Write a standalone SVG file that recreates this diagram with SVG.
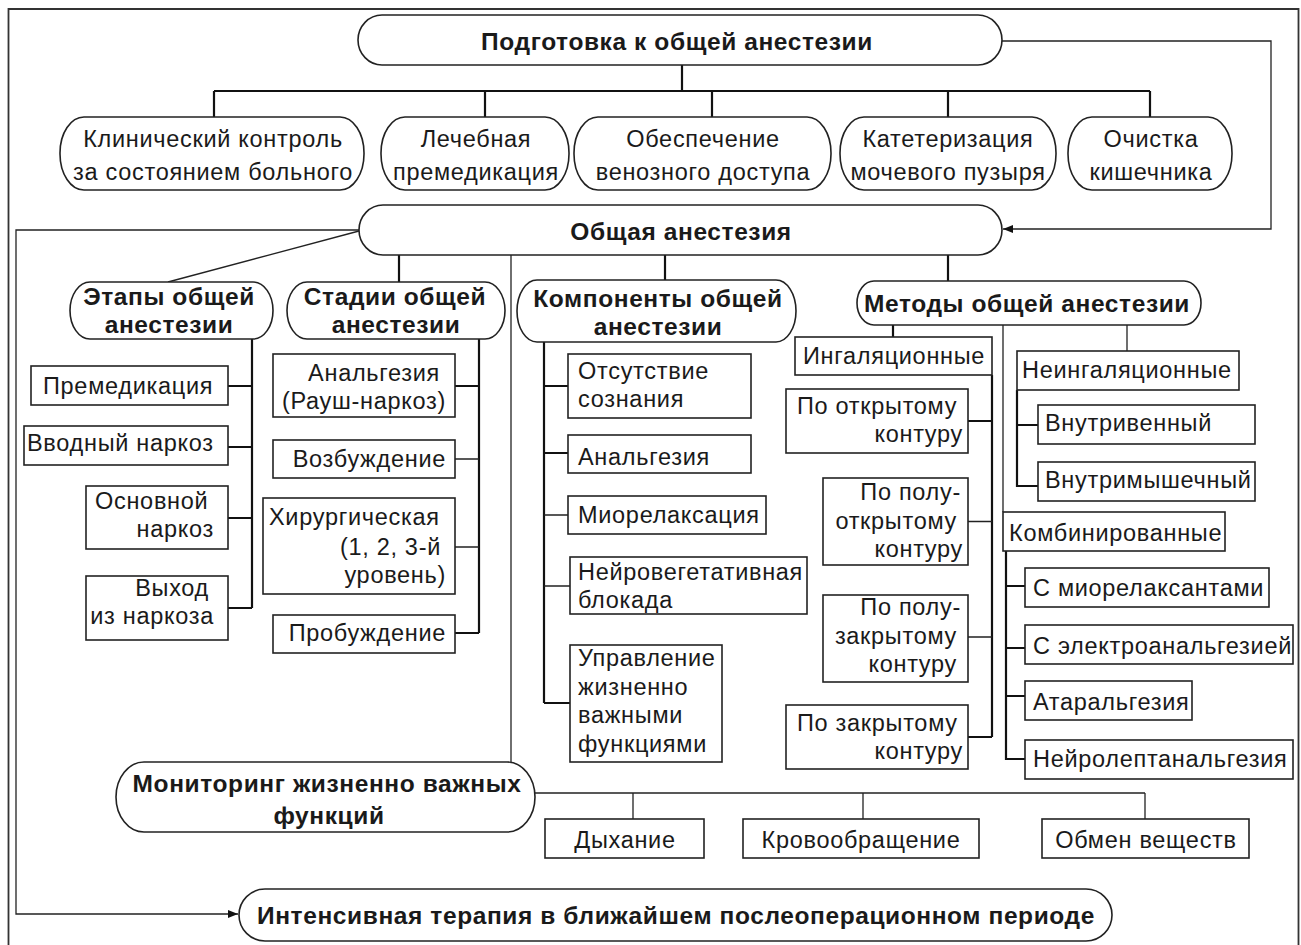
<svg xmlns="http://www.w3.org/2000/svg" width="1301" height="945" viewBox="0 0 1301 945">
<style>
.bg{fill:#fff}
.frame{fill:none;stroke:#333;stroke-width:1.8}
.ov{fill:#fff;stroke:#222;stroke-width:1.6}
.bx{fill:#fff;stroke:#222;stroke-width:1.6}
.c{fill:none;stroke:#111;stroke-width:2.2}
.t{fill:none;stroke:#222;stroke-width:1.3}
text{font-family:"Liberation Sans",Arial,sans-serif;fill:#1a1a1a;font-size:23.5px;letter-spacing:0.7px}
.b{font-weight:bold;font-size:24.5px;letter-spacing:0.6px}
.m{text-anchor:middle}
.e{text-anchor:end}
</style>
<defs>
<marker id="arr" viewBox="0 0 10 8" refX="10" refY="4" markerWidth="10" markerHeight="8" markerUnits="userSpaceOnUse" orient="auto">
<path d="M0,0 L10,4 L0,8 Z" fill="#111"/>
</marker>
</defs>
<rect class="bg" x="0" y="0" width="1301" height="945"/>
<path class="frame" d="M8.5,950 V9 H1298.5 V950"/>

<g id="connectors">
<path class="c" d="M682,65 V91 M214,91 H1150 M214,91 V117 M485,91 V117 M712,91 V117 M948,91 V117 M1150,91 V117"/>
<path class="t" d="M1002,41 H1271 V229 H1003" marker-end="url(#arr)"/>
<path class="t" d="M359,230 H16 V914 H238" marker-end="url(#arr)"/>
<path class="t" d="M359,231 L168,282"/>
<path class="c" d="M399,255 V282"/>
<path class="t" d="M511,255 V762"/>
<path class="c" d="M665,255 V280"/>
<path class="c" d="M948,255 V281"/>
<path class="c" d="M252,339 V608 M252,386 H228 M252,447 H228 M252,518 H228 M252,608 H228"/>
<path class="c" d="M479,339 V633 M479,386 H455 M479,633 H455"/>
<path class="t" d="M479,459 H455 M479,547 H455"/>
<path class="c" d="M544,342 V703 M544,386 H568 M544,453 H568 M544,703 H570"/>
<path class="t" d="M544,515 H568 M544,586 H570"/>
<path class="c" d="M893,325 V337"/>
<path class="t" d="M1003,325 V512 M1127,325 V351"/>
<path class="c" d="M992,375 V737 M992,421 H968 M992,737 H968"/>
<path class="t" d="M992,521.5 H968 M992,637 H968"/>
<path class="c" d="M1017,390 V486 H1038 M1017,425 H1038"/>
<path class="c" d="M1006,551 V759 H1025 M1006,586 H1025 M1006,648 H1025 M1006,696 H1025"/>
<path class="t" d="M535,793 H1145 M633,793 V819 M863,793 V819 M1145,793 V819"/>
</g>

<g id="n-prep"><rect class="ov" x="358" y="15" width="644" height="50" rx="24" ry="25"/><text class="b m" x="677" y="50">Подготовка к общей анестезии</text></g>

<g id="n-clin"><rect class="ov" x="60" y="117" width="304" height="73" rx="24" ry="36"/><text class="m" x="213" y="147">Клинический контроль</text><text class="m" x="213" y="180">за состоянием больного</text></g>
<g id="n-prem1"><rect class="ov" x="381" y="117" width="188" height="73" rx="24" ry="36"/><text class="m" x="476" y="147">Лечебная</text><text class="m" x="476" y="180">премедикация</text></g>
<g id="n-ven"><rect class="ov" x="574" y="117" width="257" height="73" rx="24" ry="36"/><text class="m" x="703" y="147">Обеспечение</text><text class="m" x="703" y="180">венозного доступа</text></g>
<g id="n-cat"><rect class="ov" x="840" y="117" width="216" height="73" rx="24" ry="36"/><text class="m" x="948" y="147">Катетеризация</text><text class="m" x="948" y="180">мочевого пузыря</text></g>
<g id="n-kish"><rect class="ov" x="1068" y="117" width="164" height="73" rx="24" ry="36"/><text class="m" x="1151" y="147">Очистка</text><text class="m" x="1151" y="180">кишечника</text></g>

<g id="n-gen"><rect class="ov" x="359" y="205" width="643" height="50" rx="24" ry="25"/><text class="b m" x="681" y="240">Общая анестезия</text></g>

<g id="n-etapy"><rect class="ov" x="70" y="282" width="203" height="57" rx="20" ry="28.5"/><text class="b m" x="169" y="305">Этапы общей</text><text class="b m" x="169" y="333">анестезии</text></g>
<g id="n-stadii"><rect class="ov" x="287" y="282" width="218" height="57" rx="20" ry="28.5"/><text class="b m" x="395" y="305">Стадии общей</text><text class="b m" x="396" y="333">анестезии</text></g>
<g id="n-komp"><rect class="ov" x="517" y="280" width="279" height="62" rx="20" ry="31"/><text class="b m" x="658" y="307">Компоненты общей</text><text class="b m" x="658" y="335">анестезии</text></g>
<g id="n-metody"><rect class="ov" x="857" y="281" width="344" height="44" rx="17" ry="22"/><text class="b m" x="1027" y="312">Методы общей анестезии</text></g>

<g id="n-e1"><rect class="bx" x="31" y="366" width="197" height="39"/><text x="43" y="394">Премедикация</text></g>
<g id="n-e2"><rect class="bx" x="24" y="426" width="204" height="39"/><text x="27" y="451">Вводный наркоз</text></g>
<g id="n-e3"><rect class="bx" x="86" y="486" width="142" height="63"/><text x="95" y="509">Основной</text><text class="e" x="214" y="537">наркоз</text></g>
<g id="n-e4"><rect class="bx" x="86" y="576" width="142" height="64"/><text class="e" x="209" y="596">Выход</text><text class="e" x="214" y="624">из наркоза</text></g>

<g id="n-s1"><rect class="bx" x="273" y="354" width="182" height="63"/><text class="e" x="440" y="381">Анальгезия</text><text class="e" x="446" y="409">(Рауш-наркоз)</text></g>
<g id="n-s2"><rect class="bx" x="273" y="440" width="182" height="38"/><text class="e" x="446" y="467">Возбуждение</text></g>
<g id="n-s3"><rect class="bx" x="263" y="498" width="192" height="96"/><text x="269" y="525">Хирургическая</text><text class="e" x="441" y="555">(1, 2, 3-й</text><text class="e" x="446" y="583">уровень)</text></g>
<g id="n-s4"><rect class="bx" x="273" y="615" width="182" height="38"/><text class="e" x="446" y="641">Пробуждение</text></g>

<g id="n-k1"><rect class="bx" x="568" y="354" width="183" height="64"/><text x="578" y="379">Отсутствие</text><text x="578" y="407">сознания</text></g>
<g id="n-k2"><rect class="bx" x="568" y="435" width="183" height="38"/><text x="578" y="465">Анальгезия</text></g>
<g id="n-k3"><rect class="bx" x="568" y="496" width="198" height="38"/><text x="578" y="523">Миорелаксация</text></g>
<g id="n-k4"><rect class="bx" x="570" y="557" width="237" height="57"/><text x="578" y="580">Нейровегетативная</text><text x="578" y="608">блокада</text></g>
<g id="n-k5"><rect class="bx" x="570" y="645" width="152" height="117"/><text x="578" y="666">Управление</text><text x="578" y="695">жизненно</text><text x="578" y="723">важными</text><text x="578" y="752">функциями</text></g>

<g id="n-inh"><rect class="bx" x="795" y="337" width="197" height="38"/><text x="803" y="364">Ингаляционные</text></g>
<g id="n-i1"><rect class="bx" x="786" y="389" width="182" height="64"/><text x="797" y="414">По открытому</text><text class="e" x="963" y="442">контуру</text></g>
<g id="n-i2"><rect class="bx" x="823" y="478" width="145" height="87"/><text class="e" x="961" y="500">По полу-</text><text class="e" x="957" y="529">открытому</text><text class="e" x="963" y="557">контуру</text></g>
<g id="n-i3"><rect class="bx" x="823" y="595" width="145" height="87"/><text class="e" x="961" y="615">По полу-</text><text class="e" x="957" y="644">закрытому</text><text class="e" x="957" y="672">контуру</text></g>
<g id="n-i4"><rect class="bx" x="786" y="705" width="182" height="64"/><text x="797" y="731">По закрытому</text><text class="e" x="963" y="759">контуру</text></g>

<g id="n-neinh"><rect class="bx" x="1017" y="351" width="222" height="39"/><text x="1022" y="378">Неингаляционные</text></g>
<g id="n-n1"><rect class="bx" x="1038" y="405" width="217" height="39"/><text x="1045" y="431">Внутривенный</text></g>
<g id="n-n2"><rect class="bx" x="1038" y="462" width="217" height="39"/><text x="1045" y="488">Внутримышечный</text></g>

<g id="n-comb"><rect class="bx" x="1003" y="512" width="222" height="39"/><text x="1009" y="541">Комбинированные</text></g>
<g id="n-c1"><rect class="bx" x="1025" y="568" width="244" height="39"/><text x="1033" y="596">С миорелаксантами</text></g>
<g id="n-c2"><rect class="bx" x="1025" y="625" width="268" height="39"/><text x="1033" y="654">С электроанальгезией</text></g>
<g id="n-c3"><rect class="bx" x="1025" y="681" width="167" height="39"/><text x="1033" y="710">Атаральгезия</text></g>
<g id="n-c4"><rect class="bx" x="1025" y="740" width="268" height="39"/><text x="1033" y="767">Нейролептанальгезия</text></g>

<g id="n-mon"><rect class="ov" x="116" y="762" width="419" height="70" rx="28" ry="35"/><text class="b m" x="327" y="792">Мониторинг жизненно важных</text><text class="b m" x="329" y="824">функций</text></g>
<g id="n-m1"><rect class="bx" x="545" y="819" width="159" height="39"/><text class="m" x="625" y="848">Дыхание</text></g>
<g id="n-m2"><rect class="bx" x="743" y="819" width="236" height="39"/><text class="m" x="861" y="848">Кровообращение</text></g>
<g id="n-m3"><rect class="bx" x="1042" y="819" width="207" height="39"/><text class="m" x="1146" y="848">Обмен веществ</text></g>

<g id="n-int"><rect class="ov" x="239" y="889" width="873" height="52" rx="26" ry="26"/><text class="b m" x="676" y="924">Интенсивная терапия в ближайшем послеоперационном периоде</text></g>
</svg>
